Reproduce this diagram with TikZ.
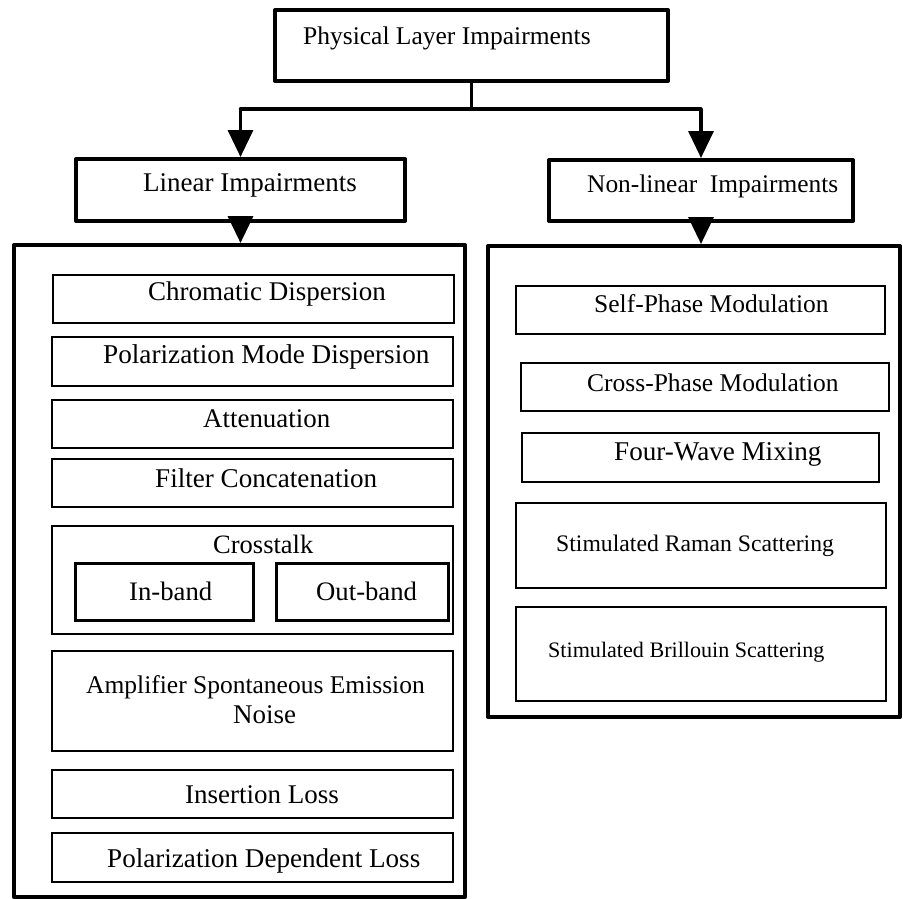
\documentclass[tikz,border=0pt]{standalone}
\usepackage{fontspec}
\setmainfont{Liberation Serif}
\usetikzlibrary{arrows.meta}
\newcommand\txtsize[1]{\fontsize{#1pt}{#1pt}\selectfont}
\begin{document}
\begin{tikzpicture}[x=1pt,y=-1pt,
  headbox/.style={draw, line width=4pt, line join=round, inner sep=0pt},
  itembox/.style={draw, line width=1.8pt, inner sep=0pt},
  subbox/.style={draw, line width=3pt, inner sep=0pt},
  txt/.style={anchor=base west, inner sep=0pt},
  link/.style={line width=3.5pt},
  flow/.style={line width=3.5pt, -{Triangle[width=25pt,length=27pt]}}]
\useasboundingbox (0,0) rectangle (903,899);

% headings
\node[headbox, minimum width=393pt, minimum height=71pt] (top) at (471.5,45.5) {};
\node[headbox, minimum width=329pt, minimum height=62pt] (lin) at (240.5,190) {};
\node[headbox, minimum width=304pt, minimum height=61pt] (nl) at (701,190.5) {};

% containers
\node[headbox, minimum width=451pt, minimum height=652pt] (linc) at (239.5,571) {};
\node[headbox, minimum width=412pt, minimum height=471pt] (nlc) at (694,481.5) {};

% branching connectors
\coordinate (jl) at (240.5,109);
\coordinate (jr) at (701,109);
\draw[link] (top.south) -- (top.south |- jl);
\draw[link, line cap=round] (jl) -- (jr);
\draw[flow] (jl) -- (lin.north);
\draw[flow] (jr) -- (nl.north);
\draw[flow] (lin.south) -- (lin.south |- linc.north);
\draw[flow] (nl.south) -- (nl.south |- nlc.north);

% linear impairments
\node[itembox, minimum width=401pt, minimum height=48pt] (cd) at (253.5,299) {};
\node[itembox, minimum width=401pt, minimum height=49pt] (pmd) at (252.5,361.5) {};
\node[itembox, minimum width=401pt, minimum height=48pt] (att) at (252.5,424) {};
\node[itembox, minimum width=401pt, minimum height=48pt] (fc) at (252.5,483) {};
\node[itembox, minimum width=401pt, minimum height=108pt] (xt) at (252.5,580) {};
\node[subbox, minimum width=178pt, minimum height=57pt] (inb) at (164,591.5) {};
\node[subbox, minimum width=172pt, minimum height=57pt] (outb) at (362,591.5) {};
\node[itembox, minimum width=401pt, minimum height=100pt] (ase) at (252.5,701) {};
\node[itembox, minimum width=401pt, minimum height=48pt] (il) at (252.5,794) {};
\node[itembox, minimum width=401pt, minimum height=49pt] (pdl) at (252.5,857.5) {};

% non-linear impairments
\node[itembox, minimum width=369pt, minimum height=48pt] (spm) at (700.5,310) {};
\node[itembox, minimum width=368pt, minimum height=48pt] (xpm) at (705,387) {};
\node[itembox, minimum width=357pt, minimum height=49pt] (fwm) at (700.5,457.5) {};
\node[itembox, minimum width=370pt, minimum height=85pt] (srs) at (701,545.5) {};
\node[itembox, minimum width=370pt, minimum height=94pt] (sbs) at (701,654) {};

% labels
\node[txt, font=\txtsize{25.5}] (ttop) at (303,45) {Physical Layer Impairments};
\node[txt, font=\txtsize{27}] (tlin) at (143,191) {Linear Impairments};
\node[txt, font=\txtsize{25.4}] (tnl) at (587,192) {Non-linear\ \ Impairments};

\node[txt, font=\txtsize{27}] (tcd) at (148,300) {Chromatic Dispersion};
\node[txt, font=\txtsize{27.2}] (tpmd) at (103,363) {Polarization Mode Dispersion};
\node[txt, font=\txtsize{26.9}] (tatt) at (203,427) {Attenuation};
\node[txt, font=\txtsize{27.1}] (tfc) at (155,487) {Filter Concatenation};
\node[txt, font=\txtsize{26.5}] (txt) at (213,553) {Crosstalk};
\node[txt, font=\txtsize{26.7}] (tinb) at (129,600) {In-band};
\node[txt, font=\txtsize{26.7}] (toutb) at (316,600) {Out-band};
\node[txt, font=\txtsize{25.5}] (tase1) at (86,693) {Amplifier Spontaneous Emission};
\node[txt, font=\txtsize{27}] (tase2) at (233,723) {Noise};
\node[txt, font=\txtsize{27}] (til) at (185,803) {Insertion Loss};
\node[txt, font=\txtsize{27.1}] (tpdl) at (107,867) {Polarization Dependent Loss};

\node[txt, font=\txtsize{25.5}] (tspm) at (594,312) {Self-Phase Modulation};
\node[txt, font=\txtsize{25.5}] (txpm) at (587,391) {Cross-Phase Modulation};
\node[txt, font=\txtsize{27.1}] (tfwm) at (614,460) {Four-Wave Mixing};
\node[txt, font=\txtsize{23.7}] (tsrs) at (556,551) {Stimulated Raman Scattering};
\node[txt, font=\txtsize{22.1}] (tsbs) at (548,657) {Stimulated Brillouin Scattering};
\end{tikzpicture}
\end{document}
